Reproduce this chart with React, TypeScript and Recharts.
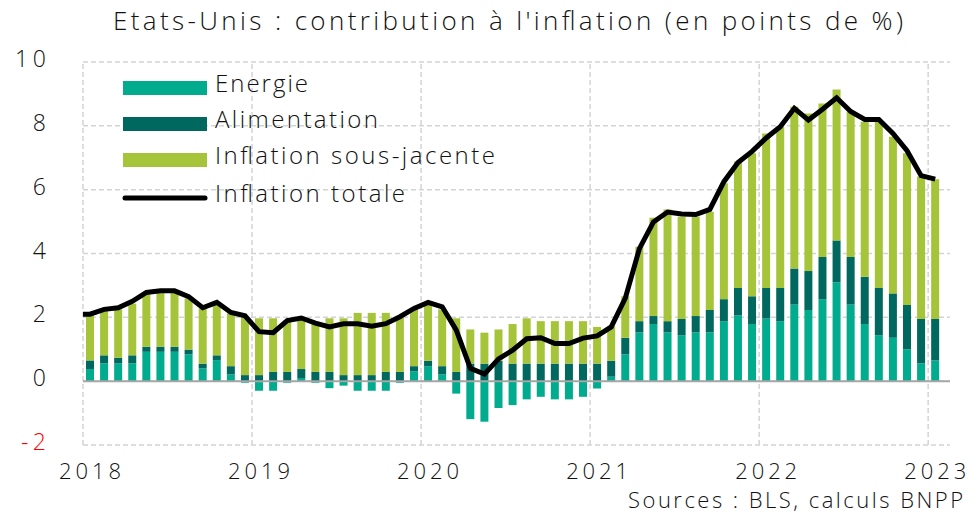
import React from 'react'
import {
  ComposedChart,
  Bar,
  Line,
  XAxis,
  YAxis,
  CartesianGrid,
  ReferenceLine,
  Legend,
} from 'recharts'

// Dec 2017 .. Jan 2023, contributions in percentage points
const months = [
  '2017-12',
  '2018-01', '2018-02', '2018-03', '2018-04', '2018-05', '2018-06', '2018-07', '2018-08', '2018-09', '2018-10', '2018-11', '2018-12',
  '2019-01', '2019-02', '2019-03', '2019-04', '2019-05', '2019-06', '2019-07', '2019-08', '2019-09', '2019-10', '2019-11', '2019-12',
  '2020-01', '2020-02', '2020-03', '2020-04', '2020-05', '2020-06', '2020-07', '2020-08', '2020-09', '2020-10', '2020-11', '2020-12',
  '2021-01', '2021-02', '2021-03', '2021-04', '2021-05', '2021-06', '2021-07', '2021-08', '2021-09', '2021-10', '2021-11', '2021-12',
  '2022-01', '2022-02', '2022-03', '2022-04', '2022-05', '2022-06', '2022-07', '2022-08', '2022-09', '2022-10', '2022-11', '2022-12',
  '2023-01',
]

const energie = [
  null,
  0.38, 0.56, 0.56, 0.56, 0.92, 0.92, 0.92, 0.84, 0.4, 0.66, 0.21, -0.05,
  -0.3, -0.3, -0.05, 0.1, -0.05, -0.22, -0.14, -0.3, -0.3, -0.3, -0.05, 0.31,
  0.47, 0.21, -0.39, -1.19, -1.27, -0.84, -0.75, -0.57, -0.49, -0.57, -0.57, -0.49,
  -0.23, 0.14, 0.84, 1.53, 1.79, 1.53, 1.44, 1.53, 1.53, 1.88, 2.06, 1.79,
  1.96, 1.88, 2.4, 2.23, 2.57, 3.1, 2.4, 1.79, 1.44, 1.36, 1.0, 0.56,
  0.65,
]

const alimentation = [
  null,
  0.27, 0.25, 0.17, 0.25, 0.16, 0.16, 0.16, 0.15, 0.15, 0.15, 0.26, 0.19,
  0.19, 0.29, 0.29, 0.28, 0.29, 0.29, 0.19, 0.19, 0.19, 0.29, 0.29, 0.16,
  0.17, 0.26, 0.29, 0.55, 0.55, 0.64, 0.55, 0.55, 0.55, 0.55, 0.55, 0.55,
  0.55, 0.5, 0.52, 0.35, 0.25, 0.35, 0.51, 0.51, 0.7, 0.69, 0.86, 0.87,
  0.96, 1.04, 1.13, 1.22, 1.32, 1.31, 1.49, 1.48, 1.48, 1.39, 1.39, 1.39,
  1.3,
]

const sousJacente = [
  null,
  1.42, 1.44, 1.52, 1.62, 1.64, 1.7, 1.7, 1.6, 1.73, 1.62, 1.65, 1.81,
  1.78, 1.68, 1.61, 1.6, 1.56, 1.68, 1.78, 1.95, 1.95, 1.85, 1.69, 1.8,
  1.76, 1.78, 1.68, 1.07, 0.97, 0.98, 1.24, 1.42, 1.33, 1.33, 1.33, 1.33,
  1.15, 1.08, 1.3, 2.33, 3.08, 3.5, 3.2, 3.11, 3.08, 3.63, 3.96, 4.48,
  4.84, 5.05, 5.07, 4.94, 4.81, 4.73, 4.55, 4.86, 5.21, 4.91, 4.75, 4.46,
  4.38,
]

const inflationTotale = [
  2.1,
  2.1, 2.25, 2.3, 2.5, 2.78, 2.83, 2.83, 2.65, 2.3, 2.47, 2.15, 2.05,
  1.55, 1.52, 1.9, 1.98, 1.82, 1.7, 1.8, 1.8, 1.72, 1.8, 2.02, 2.28,
  2.47, 2.33, 1.6, 0.4, 0.22, 0.7, 0.97, 1.33, 1.36, 1.18, 1.18, 1.35,
  1.42, 1.7, 2.6, 4.15, 4.99, 5.3, 5.24, 5.22, 5.38, 6.25, 6.85, 7.2,
  7.62, 7.97, 8.55, 8.18, 8.52, 8.88, 8.45, 8.2, 8.2, 7.76, 7.22, 6.44,
  6.33,
]

const yearStarts = [0, 12, 24, 36, 48, 60]
const yearLabels = ['2018', '2019', '2020', '2021', '2022', '2023']
const yTicks = [-2, 0, 2, 4, 6, 8, 10]

const COLORS = {
  energie: '#00AB8E',
  alimentation: '#00685E',
  sousJacente: '#A5C43A',
  totale: '#000000',
  grid: '#d4d4d4',
  text: '#111111',
  negative: '#ff0000',
}

const FONT = '"Open Sans", "Noto Sans", sans-serif'

// x = month position (0 = start of Jan 2018), bars sit in the middle of their month
const data = months.map((m, i) => ({
  month: m,
  x: i - 0.5,
  energie: energie[i],
  alimentation: alimentation[i],
  sousJacente: sousJacente[i],
  totale: inflationTotale[i],
}))

const YTick = (props: any) => {
  const { y, payload } = props
  const v = Number(payload.value)
  const label = String(v)
  const color = v < 0 ? COLORS.negative : COLORS.text
  return (
    <text
      x={46}
      y={y + 5}
      textAnchor="end"
      fontFamily={FONT}
      fontWeight={300}
      fontSize={23}
      textLength={v < 0 ? 25 : label.length * 15.5}
      lengthAdjust="spacing"
      fill={color}
      style={{ fill: color }}
    >
      {label}
    </text>
  )
}

const XTick = (props: any) => {
  const { x, payload } = props
  const label = yearLabels[Math.round((payload.value - 0.5) / 12)]
  return (
    <text
      x={x}
      y={479}
      textAnchor="middle"
      fontFamily={FONT}
      fontWeight={300}
      fontSize={22}
      textLength={62}
      lengthAdjust="spacing"
      fill={COLORS.text}
    >
      {label}
    </text>
  )
}

const legendRows = [
  { label: 'Energie', color: COLORS.energie, width: 93 },
  { label: 'Alimentation', color: COLORS.alimentation, width: 163 },
  { label: 'Inflation sous-jacente', color: COLORS.sousJacente, width: 280 },
]

const renderLegend = () => (
  <svg width={440} height={170} style={{ display: 'block', overflow: 'visible' }}>
    {legendRows.map((row, i) => (
      <g key={row.label}>
        <rect x={3} y={11 + i * 36} width={84} height={14} fill={row.color} />
        <text
          x={95}
          y={22 + i * 36}
          fontFamily={FONT}
          fontWeight={300}
          fontSize={24}
          textLength={row.width}
          lengthAdjust="spacing"
          fill={COLORS.text}
        >
          {row.label}
        </text>
      </g>
    ))}
    <line x1={5} x2={85} y1={128} y2={128} stroke={COLORS.totale} strokeWidth={5} strokeLinecap="round" />
    <text
      x={95}
      y={132}
      fontFamily={FONT}
      fontWeight={300}
      fontSize={24}
      textLength={190}
      lengthAdjust="spacing"
      fill={COLORS.text}
    >
      Inflation totale
    </text>
  </svg>
)

export default function App() {
  return (
    <div style={{ position: 'absolute', left: 0, top: 0, width: 975, height: 516, background: '#fff' }}>
      <ComposedChart
        width={975}
        height={516}
        data={data}
        stackOffset="sign"
        margin={{ top: 62, right: 25, bottom: 31, left: 22 }}
      >
        <CartesianGrid vertical={false} stroke={COLORS.grid} strokeDasharray="5 3" strokeWidth={1.5} />
        {yearStarts.map((v) => (
          <ReferenceLine key={v} x={v} stroke={COLORS.grid} strokeDasharray="5 3" strokeWidth={1.5} />
        ))}
        <XAxis
          type="number"
          dataKey="x"
          domain={[0, 61.55]}
          allowDataOverflow
          ticks={yearStarts.map((v) => v + 0.5)}
          interval={0}
          axisLine={false}
          tickLine={false}
          height={40}
          tick={<XTick />}
        />
        <YAxis
          domain={[-2, 10]}
          ticks={yTicks}
          interval={0}
          axisLine={false}
          tickLine={false}
          width={61}
          tick={<YTick />}
        />
        <ReferenceLine y={0} stroke="#a6a6a6" strokeWidth={2} />
        <Bar dataKey="energie" stackId="s" fill={COLORS.energie} barSize={8} isAnimationActive={false} />
        <Bar dataKey="alimentation" stackId="s" fill={COLORS.alimentation} barSize={8} isAnimationActive={false} />
        <Bar dataKey="sousJacente" stackId="s" fill={COLORS.sousJacente} barSize={8} isAnimationActive={false} />
        <Line
          type="linear"
          dataKey="totale"
          stroke={COLORS.totale}
          strokeWidth={5}
          dot={false}
          activeDot={false}
          isAnimationActive={false}
        />
        <Legend
          layout="vertical"
          align="center"
          verticalAlign="middle"
          content={renderLegend}
          wrapperStyle={{ left: 120, top: 70, width: 440, height: 170 }}
        />
      </ComposedChart>
      <svg
        width={975}
        height={516}
        style={{ position: 'absolute', left: 0, top: 0, pointerEvents: 'none' }}
      >
        <text
          x={113}
          y={30}
          fontFamily={FONT}
          fontWeight={300}
          fontSize={26}
          textLength={790}
          lengthAdjust="spacing"
          fill={COLORS.text}
        >
          Etats-Unis : contribution à l'inflation (en points de %)
        </text>
        <text
          x={628}
          y={508}
          fontFamily={FONT}
          fontWeight={300}
          fontSize={22}
          textLength={335}
          lengthAdjust="spacing"
          fill={COLORS.text}
        >
          Sources : BLS, calculs BNPP
        </text>
      </svg>
    </div>
  )
}
